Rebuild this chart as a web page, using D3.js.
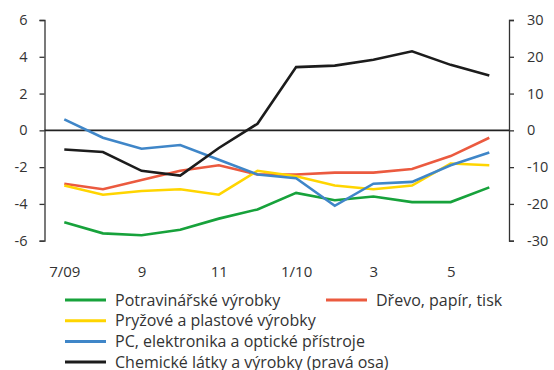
<!DOCTYPE html>
<html>
<head>
<meta charset="utf-8">
<script src="https://cdn.jsdelivr.net/npm/d3@7"></script>
<style>
  html, body { margin: 0; padding: 0; background: #fff; }
  svg { display: block; }
  text { font-family: "Open Sans", "Noto Sans", sans-serif; fill: #333; }
</style>
</head>
<body>
<svg id="chart" width="554" height="370"></svg>
<script>
// Months 7/2009 – 6/2010
const months = ["7/09", "8", "9", "10", "11", "12", "1/10", "2", "3", "4", "5", "6"];
const tickMonths = ["7/09", "9", "11", "1/10", "3", "5"];
const leftTicks = [-6, -4, -2, 0, 2, 4, 6];
const rightTicks = [-30, -20, -10, 0, 10, 20, 30];

// Left axis series
const potraviny = [-5.0, -5.6, -5.7, -5.4, -4.8, -4.3, -3.4, -3.8, -3.6, -3.9, -3.9, -3.1];
const drevo     = [-2.9, -3.2, -2.7, -2.2, -1.9, -2.4, -2.4, -2.3, -2.3, -2.1, -1.4, -0.4];
const pryz      = [-3.0, -3.5, -3.3, -3.2, -3.5, -2.2, -2.5, -3.0, -3.2, -3.0, -1.8, -1.9];
const pc        = [0.6, -0.4, -1.0, -0.8, -1.6, -2.4, -2.6, -4.1, -2.9, -2.8, -1.9, -1.2];
// Right axis series
const chemie    = [-5.2, -5.9, -11.0, -12.3, -4.8, 1.8, 17.2, 17.6, 19.2, 21.5, 17.8, 14.9];

const series = [
  { name: "Potravinářské výrobky", values: potraviny, color: "#17a23b", axis: "left" },
  { name: "Dřevo, papír, tisk", values: drevo, color: "#eb5a3f", axis: "left" },
  { name: "Pryžové a plastové výrobky", values: pryz, color: "#ffd500", axis: "left" },
  { name: "PC, elektronika a optické přístroje", values: pc, color: "#3f86c8", axis: "left" },
  { name: "Chemické látky a výrobky (pravá osa)", values: chemie, color: "#1c1c1c", axis: "right" }
];

const svg = d3.select("#chart");
const plot = { left: 44.5, right: 509, top: 20, bottom: 240.7 };

const x = d3.scalePoint().domain(months).range([64.3, 489.3]);
const yL = d3.scaleLinear().domain([-6, 6]).range([plot.bottom, plot.top]);
const yR = d3.scaleLinear().domain([-30, 30]).range([plot.bottom, plot.top]);

// Plain hyphen for negative numbers
const fmt = d => String(d);

// Axes
const leftAxis = svg.append("g")
  .attr("transform", `translate(${plot.left},0)`)
  .call(d3.axisLeft(yL).tickValues(leftTicks).tickFormat(fmt).tickSize(5).tickSizeOuter(5).tickPadding(12));
const rightAxis = svg.append("g")
  .attr("transform", `translate(${plot.right},0)`)
  .call(d3.axisRight(yR).tickValues(rightTicks).tickFormat(fmt).tickSize(5).tickSizeOuter(5).tickPadding(13));
[leftAxis, rightAxis].forEach(g => {
  g.select(".domain").attr("stroke", "#333").attr("stroke-width", 1.3);
  g.selectAll(".tick line").attr("stroke", "#333").attr("stroke-width", 1.3);
  g.selectAll(".tick text").attr("font-size", 14.5).attr("fill", "#333")
    .style("font-family", "'Open Sans', sans-serif");
});

// Month labels
const xAxis = svg.append("g")
  .attr("transform", `translate(0,${plot.bottom})`)
  .call(d3.axisBottom(x).tickValues(tickMonths).tickSize(0).tickPadding(26));
xAxis.select(".domain").remove();
xAxis.selectAll(".tick text").attr("font-size", 15).attr("fill", "#333")
  .style("font-family", "'Open Sans', sans-serif");

// Zero line
svg.append("line")
  .attr("x1", plot.left).attr("x2", plot.right)
  .attr("y1", yL(0)).attr("y2", yL(0))
  .attr("stroke", "#222").attr("stroke-width", 1.8);

// Series lines
series.forEach(s => {
  const y = s.axis === "left" ? yL : yR;
  const line = d3.line().x((d, i) => x(months[i])).y(d => y(d));
  svg.append("path")
    .datum(s.values)
    .attr("d", line)
    .attr("fill", "none")
    .attr("stroke", s.color)
    .attr("stroke-width", 2.6)
    .attr("stroke-linejoin", "miter");
});

// Legend
const legendPos = [
  { x: 65, row: 0 }, { x: 326, row: 0 }, { x: 65, row: 1 }, { x: 65, row: 2 }, { x: 65, row: 3 }
];
const legend = svg.append("g");
series.forEach((s, i) => {
  const p = legendPos[i];
  const yy = 300 + p.row * 20.7;
  legend.append("line")
    .attr("x1", p.x).attr("x2", p.x + 41)
    .attr("y1", yy).attr("y2", yy)
    .attr("stroke", s.color).attr("stroke-width", 3);
  legend.append("text")
    .attr("x", p.x + 50).attr("y", yy)
    .attr("dy", "0.35em")
    .attr("font-size", 16)
    .text(s.name);
});
</script>
</body>
</html>
